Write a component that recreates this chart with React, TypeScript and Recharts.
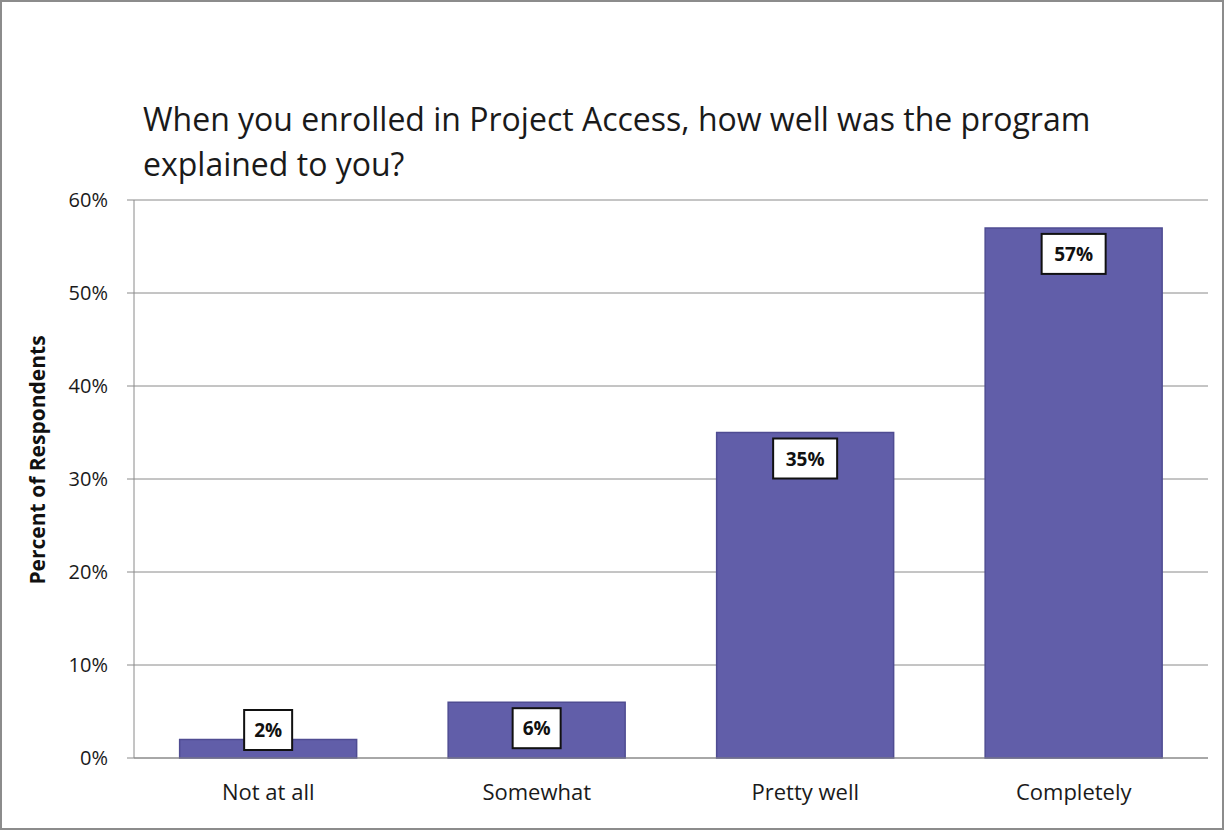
import React from 'react';
import { BarChart, Bar, XAxis, YAxis, CartesianGrid, LabelList } from 'recharts';

const categories = ['Not at all', 'Somewhat', 'Pretty well', 'Completely'];
const percentValues = [2, 6, 35, 57];
const yTicks = [0, 10, 20, 30, 40, 50, 60];
const boundaryTicks = [0, 1, 2, 3, 4];

const data = categories.map((c, i) => ({ name: c, value: percentValues[i] }));

const FONT = '"Open Sans", sans-serif';
const BAR_FILL = '#615ea9';
const BAR_STROKE = '#4f4c92';

const ValueBox = (props: any) => {
  const { x, y, width, height, value } = props;
  const label = `${value}%`;
  const boxW = label.length > 2 ? 64 : 48;
  const boxH = 40;
  const base = y + height;
  const top = Math.min(y + 6, base - 48);
  const cx = x + width / 2;
  return (
    <g>
      <rect x={cx - boxW / 2} y={top} width={boxW} height={boxH} fill="#ffffff" stroke="#111111" strokeWidth={2} />
      <text x={cx} y={top + boxH / 2} textAnchor="middle" dominantBaseline="central" fontFamily={FONT} fontWeight={700} fontSize={19} fill="#111">
        {label}
      </text>
    </g>
  );
};

const YTitle = (props: any) => {
  const vb = props.viewBox || {};
  const cx = 37;
  const cy = (vb.y ?? 200) + 260;
  return (
    <text x={cx} y={cy} transform={`rotate(-90 ${cx} ${cy})`} textAnchor="middle" dominantBaseline="central" fontFamily={FONT} fontWeight={700} fontSize={21} fill="#111">
      Percent of Respondents
    </text>
  );
};

export default function App() {
  return (
    <div style={{ position: 'absolute', left: 0, top: 0, width: 1224, height: 830, background: '#fff', boxSizing: 'border-box', border: '2px solid #8c8c8c', fontFamily: FONT }}>
      <div style={{ position: 'absolute', left: 141, top: 94, fontSize: 32, lineHeight: '45px', color: '#1a1a1a', fontFamily: FONT, width: 1060, whiteSpace: 'nowrap' }}>
        When you enrolled in Project Access, how well was the program<br />explained to you?
      </div>
      <div style={{ position: 'absolute', left: -2, top: -2 }}>
        <BarChart width={1224} height={830} data={data} margin={{ top: 200, right: 16, bottom: 42, left: 74 }} barCategoryGap="17%">
          <CartesianGrid vertical={false} stroke="#8a8a8a" strokeWidth={1} />
          <XAxis xAxisId="edges" type="number" domain={[0, 4]} ticks={boundaryTicks} tick={false} tickSize={8} tickLine={{ stroke: '#8a8a8a' }} axisLine={false} height={0} />
          <XAxis dataKey="name" xAxisId="cat" tickLine={false} axisLine={{ stroke: '#8a8a8a' }} height={30} tick={{ fontFamily: FONT, fontSize: 22, fill: '#1a1a1a', dy: 18 }} interval={0} />
          <YAxis domain={[0, 60]} ticks={yTicks} tickFormatter={(v: number) => `${v}%`} width={60} tickSize={7} tickLine={{ stroke: '#8a8a8a' }} axisLine={{ stroke: '#8a8a8a' }} tick={{ fontFamily: FONT, fontSize: 20, fill: '#1a1a1a', dx: -17 }} label={<YTitle />} />
          <Bar dataKey="value" xAxisId="cat" fill={BAR_FILL} stroke={BAR_STROKE} strokeWidth={1.5} isAnimationActive={false}>
            <LabelList dataKey="value" content={ValueBox} />
          </Bar>
        </BarChart>
      </div>
    </div>
  );
}
